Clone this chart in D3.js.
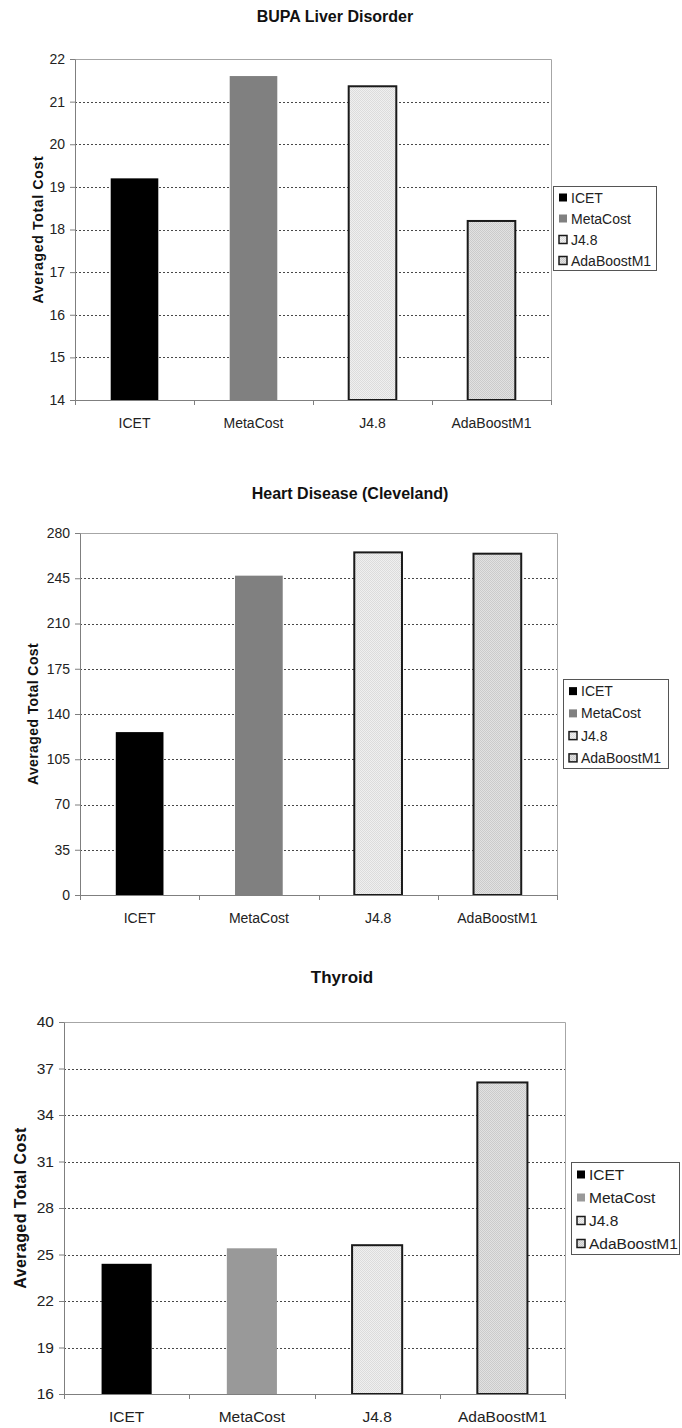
<!DOCTYPE html>
<html>
<head>
<meta charset="utf-8">
<script src="https://cdn.jsdelivr.net/npm/d3@7"></script>
<style>
  body { margin: 0; background: #fff; }
  svg { display: block; font-family: Arial, "Liberation Sans", sans-serif; }
  .grid line { stroke: #333; stroke-dasharray: 2,2; stroke-width: 0.9; }
  .axis path, .axis line { stroke: #7f7f7f; }
  .axis text { fill: #222; }
</style>
</head>
<body>
<div id="chart"></div>
<script>
// Categorias y valores de cada grafico
const categories = ["ICET", "MetaCost", "J4.8", "AdaBoostM1"];

const bupaValues = [19.2, 21.6, 21.36, 18.2];
const bupaTicks = [14, 15, 16, 17, 18, 19, 20, 21, 22];

const heartValues = [126, 247, 265, 264];
const heartTicks = [0, 35, 70, 105, 140, 175, 210, 245, 280];

const thyroidValues = [24.4, 25.4, 25.6, 36.1];
const thyroidTicks = [16, 19, 22, 25, 28, 31, 34, 37, 40];

// Configuracion de cada panel (posiciones en pixeles)
const panels = [
  { title: "BUPA Liver Disorder", values: bupaValues, ticks: bupaTicks,
    left: 75, right: 551, top: 59, bottom: 400, titleX: 335, titleY: 22, titleSize: 16,
    yLabelX: 38, font: 14, yLabelSize: 14, spacing: 0.7, meta: "#808080",
    legend: { x: 553, y: 186, w: 103, h: 84 } },
  { title: "Heart Disease (Cleveland)", values: heartValues, ticks: heartTicks,
    left: 80, right: 557, top: 533, bottom: 895, titleX: 350, titleY: 499, titleSize: 16,
    yLabelX: 33, font: 14, yLabelSize: 14, spacing: 0.4, meta: "#808080",
    legend: { x: 563, y: 679, w: 105, h: 89 } },
  { title: "Thyroid", values: thyroidValues, ticks: thyroidTicks,
    left: 64, right: 565, top: 1022, bottom: 1394, titleX: 342, titleY: 983, titleSize: 17,
    yLabelX: 20, font: 15.5, yLabelSize: 16, spacing: 0.4, meta: "#999999",
    legend: { x: 571, y: 1162, w: 108, h: 92 } }
];

const svg = d3.select("#chart").append("svg")
  .attr("width", 682).attr("height", 1428);

// Texturas punteadas para J4.8 y AdaBoostM1
const defs = svg.append("defs");
const makePattern = (id, base, dot) => {
  const p = defs.append("pattern").attr("id", id)
    .attr("width", 2).attr("height", 2).attr("patternUnits", "userSpaceOnUse");
  p.append("rect").attr("width", 2).attr("height", 2).attr("fill", base);
  p.append("rect").attr("width", 1).attr("height", 1).attr("fill", dot);
  p.append("rect").attr("x", 1).attr("y", 1).attr("width", 1).attr("height", 1).attr("fill", dot);
};
makePattern("dotsLight", "#f0f0f0", "#dcdcdc");
makePattern("dotsMid", "#e2e2e2", "#cbcbcb");

const drawPanel = (cfg) => {
  const fills = ["#000000", cfg.meta, "url(#dotsLight)", "url(#dotsMid)"];
  const strokes = ["none", "none", "#1a1a1a", "#1a1a1a"];

  const x = d3.scaleBand().domain(categories)
    .range([cfg.left, cfg.right]).paddingInner(0.6).paddingOuter(0.3);
  const y = d3.scaleLinear()
    .domain([cfg.ticks[0], cfg.ticks[cfg.ticks.length - 1]])
    .range([cfg.bottom, cfg.top]);
  const step = x.step();
  const g = svg.append("g");

  // Lineas de la cuadricula
  g.append("g").attr("class", "grid")
    .selectAll("line").data(cfg.ticks.slice(1, -1)).join("line")
    .attr("x1", cfg.left).attr("x2", cfg.right)
    .attr("y1", d => Math.round(y(d)) + 0.5).attr("y2", d => Math.round(y(d)) + 0.5);

  // Borde superior y derecho
  g.append("path")
    .attr("d", `M${cfg.left},${cfg.top + 0.5}H${cfg.right + 0.5}V${cfg.bottom}`)
    .attr("fill", "none").attr("stroke", "#a6a6a6");

  // Barras
  g.selectAll(".bar").data(cfg.values).join("rect")
    .attr("class", "bar")
    .attr("x", (d, i) => x(categories[i]))
    .attr("width", x.bandwidth())
    .attr("y", d => y(d))
    .attr("height", d => cfg.bottom - y(d))
    .attr("fill", (d, i) => fills[i])
    .attr("stroke", (d, i) => strokes[i])
    .attr("stroke-width", 2);

  // Eje Y
  const yAxis = g.append("g").attr("class", "axis")
    .attr("transform", `translate(${cfg.left},0)`)
    .call(d3.axisLeft(y).tickValues(cfg.ticks).tickSize(5).tickSizeOuter(0).tickPadding(5));
  yAxis.selectAll("text").style("font-size", cfg.font + "px");

  // Eje X con marcas en los limites de cada categoria
  const xAxisG = g.append("g").attr("class", "axis");
  xAxisG.append("line")
    .attr("x1", cfg.left).attr("x2", cfg.right)
    .attr("y1", cfg.bottom + 0.5).attr("y2", cfg.bottom + 0.5);
  xAxisG.selectAll(".tick-mark").data(d3.range(categories.length + 1)).join("line")
    .attr("class", "tick-mark")
    .attr("x1", i => Math.round(cfg.left + i * step) + 0.5)
    .attr("x2", i => Math.round(cfg.left + i * step) + 0.5)
    .attr("y1", cfg.bottom).attr("y2", cfg.bottom + 5);
  xAxisG.selectAll(".cat").data(categories).join("text")
    .attr("class", "cat")
    .attr("x", d => x(d) + x.bandwidth() / 2)
    .attr("y", cfg.bottom + 28)
    .attr("text-anchor", "middle")
    .style("font-size", cfg.font + "px")
    .text(d => d);

  // Titulo
  g.append("text")
    .attr("x", cfg.titleX).attr("y", cfg.titleY)
    .attr("text-anchor", "middle")
    .style("font-size", cfg.titleSize + "px").style("font-weight", "bold").style("fill", "#111")
    .text(cfg.title);

  // Titulo del eje Y
  g.append("text")
    .attr("transform", `translate(${cfg.yLabelX},${(cfg.top + cfg.bottom) / 2}) rotate(-90)`)
    .attr("text-anchor", "middle")
    .attr("dy", "0.35em")
    .style("font-size", cfg.yLabelSize + "px").style("font-weight", "bold")
    .style("letter-spacing", cfg.spacing + "px").style("fill", "#111")
    .text("Averaged Total Cost");

  // Leyenda
  const lg = cfg.legend;
  const legend = g.append("g").attr("transform", `translate(${lg.x},${lg.y})`);
  legend.append("rect")
    .attr("x", 0.5).attr("y", 0.5).attr("width", lg.w).attr("height", lg.h)
    .attr("fill", "#fff").attr("stroke", "#555");
  const rowH = lg.h / 4;
  categories.forEach((c, i) => {
    const cy = rowH * (i + 0.5) + 1;
    legend.append("rect")
      .attr("x", 6).attr("y", cy - 4).attr("width", 8).attr("height", 8)
      .attr("fill", fills[i])
      .attr("stroke", i > 1 ? "#1a1a1a" : "none").attr("stroke-width", 1.5);
    legend.append("text")
      .attr("x", 18).attr("y", cy).attr("dy", "0.36em")
      .style("font-size", cfg.font + "px").style("fill", "#222")
      .text(c);
  });
};

panels.forEach(drawPanel);
</script>
</body>
</html>
